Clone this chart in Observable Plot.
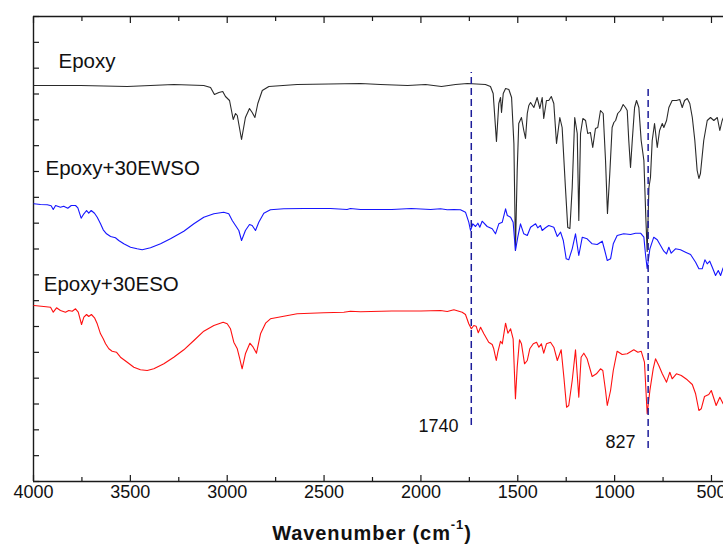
<!DOCTYPE html>
<html><head><meta charset="utf-8">
<script src="https://cdn.jsdelivr.net/npm/d3@7"></script>
<script src="https://cdn.jsdelivr.net/npm/@observablehq/plot@0.6"></script>
<style>
html,body{margin:0;padding:0;background:#fff;overflow:hidden}
#chart svg{font-family:Arial,"Liberation Sans",sans-serif;}
</style></head><body><div id="chart"></div>
<script>
// FTIR spectra: [wavenumber (cm-1), transmittance (a.u., offset)]
const epoxy = [[3998,396],[3757,396],[3516,395],[3276,397],[3121,396],[3086,394],[3066,387],[3043,389],[3023,390],[3009,385],[2988,381],[2969,362],[2957,368],[2948,366],[2926,342],[2906,364],[2885,373],[2871,369],[2857,364],[2842,378],[2819,391],[2785,395],[2639,397],[2312,398],[2209,397],[2069,396],[1976,397],[1894,395],[1821,397],[1760,398],[1667,397],[1641,395],[1627,388],[1610,340],[1598,378],[1589,384],[1584,369],[1575,388],[1563,393],[1546,392],[1532,384],[1520,338],[1512,231],[1503,311],[1495,358],[1481,364],[1469,351],[1460,343],[1451,368],[1443,376],[1434,379],[1417,374],[1400,384],[1386,373],[1374,384],[1366,363],[1352,381],[1340,381],[1327,385],[1314,378],[1300,338],[1283,364],[1271,354],[1254,294],[1242,254],[1231,253],[1219,294],[1206,364],[1193,348],[1185,261],[1176,348],[1164,363],[1150,361],[1139,348],[1125,349],[1113,334],[1099,353],[1087,354],[1073,371],[1059,368],[1047,321],[1037,268],[1025,308],[1013,354],[1004,359],[995,361],[984,368],[970,371],[956,377],[944,374],[935,371],[927,341],[918,314],[909,341],[897,374],[887,381],[875,374],[863,341],[849,321],[839,264],[832,230],[823,294],[815,304],[806,341],[794,358],[780,334],[768,351],[754,358],[746,354],[732,361],[720,374],[703,381],[681,381],[664,382],[651,374],[639,381],[625,383],[612,378],[599,364],[586,341],[574,311],[565,303],[557,308],[540,341],[522,361],[505,364],[488,361],[470,364],[457,351],[445,361],[438,364]];

const epoxyEWSO = [[3998,277.7],[3964,277],[3929,276.7],[3909,275.7],[3898,272],[3886,276],[3861,274.3],[3844,275.3],[3823,273.3],[3805,276],[3783,276],[3771,273.7],[3754,263.3],[3740,267.7],[3726,271],[3715,268.3],[3702,271],[3685,268.3],[3671,264.3],[3654,257.7],[3640,251.7],[3623,247.7],[3602,245],[3577,243.7],[3560,241],[3534,237.7],[3499,234.3],[3465,232.7],[3439,231.7],[3396,233.7],[3344,237.7],[3293,242.7],[3224,250.3],[3172,257.7],[3121,264.3],[3069,267.7],[3018,269.3],[2992,267.7],[2974,261],[2957,256],[2940,251],[2926,241],[2906,251],[2885,257],[2871,256],[2854,251],[2837,259.3],[2811,268.3],[2777,271.7],[2708,272.7],[2605,273],[2467,273],[2381,272],[2364,273],[2312,272],[2150,272],[2050,273],[1950,272],[1899,272.7],[1864,271.7],[1830,272],[1796,271.7],[1770,269.3],[1753,259.3],[1744,251],[1732,257.7],[1718,255],[1706,258.3],[1696,254.3],[1684,260.3],[1658,255],[1632,252.7],[1615,247.7],[1598,257.7],[1580,259.3],[1563,272.7],[1554,266],[1537,264.3],[1524,259.3],[1512,231],[1500,244.3],[1486,257.7],[1469,247.7],[1451,246],[1434,254.3],[1408,257.7],[1397,253.7],[1383,256],[1374,251],[1357,253.7],[1340,256],[1314,254.3],[1296,245],[1279,249.3],[1265,241],[1250,222.7],[1237,221.7],[1219,232.7],[1202,247.7],[1185,226],[1167,244.3],[1142,242.7],[1116,237.7],[1090,237],[1064,240.3],[1051,231],[1038,221],[1021,222.7],[1007,237.7],[987,246],[953,247.7],[918,247],[892,248.3],[866,248.3],[849,244.3],[841,227.7],[832,212.7],[818,232.7],[798,244.3],[780,241.7],[763,236],[746,230.3],[732,227.7],[720,234.3],[708,228.3],[686,232.7],[660,231.7],[634,229.3],[608,227],[582,219.3],[565,212.7],[548,212.7],[534,221.7],[522,217.7],[509,220.3],[496,214.3],[479,206],[465,211],[453,206],[440,213.7]];

const epoxyESO = [[3998,176],[3947,175],[3912,174.3],[3898,169.3],[3881,173.7],[3861,171],[3835,169.3],[3818,171],[3800,170.3],[3783,172.7],[3769,169.3],[3752,157],[3740,164.3],[3726,167],[3715,165],[3701,167],[3685,163.7],[3671,157.7],[3654,147.7],[3640,142.7],[3628,137.7],[3611,132.7],[3594,130.3],[3572,129.3],[3551,124.3],[3516,119.3],[3482,114.3],[3448,111.7],[3413,111],[3379,112.7],[3327,117.7],[3276,124.3],[3224,131.7],[3172,141],[3121,150.3],[3069,156],[3021,159.3],[3000,157.7],[2983,152.7],[2966,139.3],[2948,132.7],[2935,122.7],[2923,112.7],[2906,127.7],[2883,138.3],[2866,134.3],[2849,128.3],[2828,147.7],[2802,158.3],[2777,162.7],[2708,165.3],[2639,167.7],[2501,168.7],[2398,169.3],[2364,170.3],[2312,169.7],[2150,170.5],[2000,170.5],[1899,171],[1864,170],[1830,171.7],[1787,169.3],[1770,167],[1753,157.7],[1740,152.7],[1727,156],[1715,155.3],[1704,148.7],[1692,154.3],[1675,147.7],[1650,139.3],[1632,137],[1624,132.7],[1611,121],[1603,129.3],[1589,140.3],[1580,137.7],[1563,158.3],[1551,148.3],[1537,152.7],[1524,142.7],[1512,82.7],[1503,114.3],[1491,141.7],[1481,137.7],[1465,117.7],[1451,121],[1438,132.7],[1420,137.7],[1403,139.3],[1391,134.3],[1378,137.7],[1366,128.3],[1352,137.7],[1331,139.3],[1314,134.3],[1296,121],[1276,131.7],[1262,104.3],[1248,74.3],[1237,76],[1219,101],[1202,131.7],[1185,84.3],[1173,124.3],[1159,128.3],[1142,122.7],[1116,105],[1094,107.7],[1073,112.7],[1061,111],[1047,91],[1038,76],[1021,91],[1007,111],[987,130.3],[961,127],[935,127.7],[901,131.7],[880,129.3],[863,130.3],[846,119.3],[832,67.7],[818,91],[801,112.7],[789,122.7],[772,116],[754,107.7],[732,99.3],[715,109.3],[703,102.7],[681,107.7],[656,106],[625,101.7],[599,97],[582,87.7],[565,71],[553,72.7],[536,85],[514,87],[501,91],[491,85],[476,76],[457,84.3],[440,77.7]];

const seriesNames = ["Epoxy", "Epoxy+30EWSO", "Epoxy+30ESO"];
const seriesColors = ["#2a2a2a", "#1515ff", "#ff1010"];
const seriesLabelWn = [3871, 3938, 3947];
const seriesLabelT = [420.5, 313.5, 197];

const majorTicks = [4000, 3500, 3000, 2500, 2000, 1500, 1000, 500];
const minorTicks = [3750, 3250, 2750, 2250, 1750, 1250, 750];
const yTicks = d3.range(19).map(i => i * 465 / 18);

const markerWn = [1740, 827];
const markerTop = [409, 394];
const markerBottom = [56, 33];
const markerLabelWn = [1806, 892];
const markerLabelT = [55, 39];

const series = [epoxy, epoxyEWSO, epoxyESO];
const lineData = series.flatMap((s, i) => s.map(([wn, t]) => ({wn, t, name: seriesNames[i]})));
const labels = seriesNames.map((name, i) => ({name, wn: seriesLabelWn[i], t: seriesLabelT[i]}));
const markers = markerWn.map((wn, i) => ({wn, top: markerTop[i], bottom: markerBottom[i], lx: markerLabelWn[i], ly: markerLabelT[i], label: String(wn)}));

const chart = Plot.plot({
  width: 723, height: 545,
  marginLeft: 33, marginRight: 0, marginTop: 16, marginBottom: 64,
  style: {fontFamily: "Arial, 'Liberation Sans', sans-serif", fontSize: "18px", color: "#1a1a1a", background: "transparent", overflow: "visible"},
  x: {domain: [4000, 438], axis: null},
  y: {domain: [0, 465], axis: null},
  color: {domain: seriesNames, range: seriesColors},
  marks: [
    Plot.axisX(majorTicks, {anchor: "bottom", tickSize: 0, tickPadding: 4, label: null, fontSize: 18, fill: "#111", tickFormat: d => String(d)}),
    Plot.axisX(majorTicks, {anchor: "bottom", tickSize: -6, text: null, label: null, strokeWidth: 1.2}),
    Plot.axisX(minorTicks, {anchor: "bottom", tickSize: -4, text: null, label: null, strokeWidth: 1.2}),
    Plot.axisX(majorTicks, {anchor: "top", tickSize: -6, text: null, label: null, strokeWidth: 1.2}),
    Plot.axisX(minorTicks, {anchor: "top", tickSize: -4, text: null, label: null, strokeWidth: 1.2}),
    Plot.axisY(yTicks, {anchor: "left", tickSize: -6, text: null, label: null, strokeWidth: 1.2}),
    Plot.ruleY([0], {stroke: "#1a1a1a", strokeWidth: 1.4}),
    Plot.ruleY([465], {stroke: "#1a1a1a", strokeWidth: 1.4}),
    Plot.ruleX([4000], {stroke: "#1a1a1a", strokeWidth: 1.4}),
    Plot.line(lineData, {x: "wn", y: "t", z: "name", stroke: "name", strokeWidth: 1.1, curve: "linear"}),
    Plot.ruleX(markers, {x: "wn", y1: "bottom", y2: "top", stroke: "#1d1d9a", strokeWidth: 1.5, strokeDasharray: "7,4"}),
    Plot.text(markers, {x: "lx", y: "ly", text: "label", textAnchor: "end", lineAnchor: "middle", fontSize: 18, fill: "#111"}),
    Plot.text(labels, {x: "wn", y: "t", text: "name", textAnchor: "start", lineAnchor: "middle", fontSize: 20.5, fill: "#111"})
  ]
});
document.getElementById("chart").appendChild(chart);

const title = d3.select(chart).append("text")
  .attr("x", 372).attr("y", 540)
  .attr("text-anchor", "middle")
  .attr("font-size", 20).attr("font-weight", "bold")
  .attr("letter-spacing", "0.9px")
  .attr("fill", "#111");
title.append("tspan").text("Wavenumber (cm");
title.append("tspan").attr("font-size", 13).attr("dy", -11).text("-1");
title.append("tspan").attr("dy", 11).text(")");
</script></body></html>
